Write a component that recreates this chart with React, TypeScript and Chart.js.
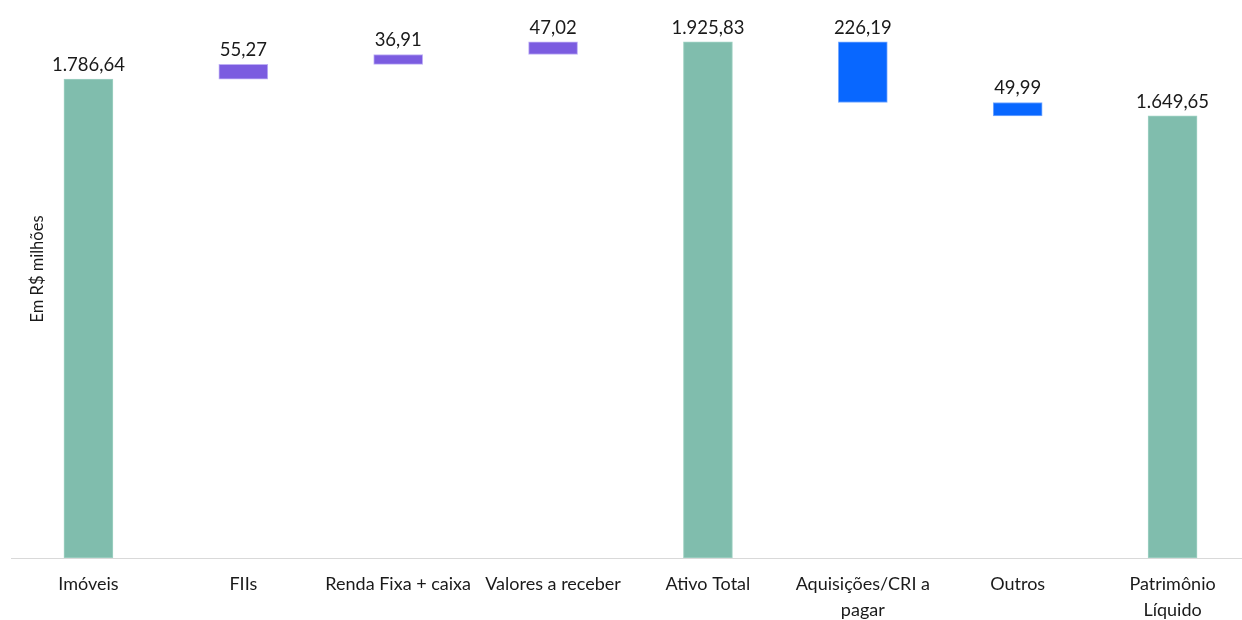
import React, { useEffect, useRef } from "react";
import { Chart, registerables } from "chart.js";

Chart.register(...registerables);

const categories: (string | string[])[] = [
  "Imóveis",
  "FIIs",
  "Renda Fixa + caixa",
  "Valores a receber",
  "Ativo Total",
  ["Aquisições/CRI a", "pagar"],
  "Outros",
  ["Patrimônio", "Líquido"],
];
// amount of each step (positive = increase, negative = decrease)
const amounts = [1786.64, 55.27, 36.91, 47.02, 1925.83, -226.19, -49.99, 1649.65];
// "total" bars start from zero; "step" bars float from the running total
const kinds = ["total", "step", "step", "step", "total", "step", "step", "total"];
const valueLabels = ["1.786,64", "55,27", "36,91", "47,02", "1.925,83", "226,19", "49,99", "1.649,65"];

const TEAL = "#80BDAD";
const PURPLE = "#7B5CE0";
const BLUE = "#0867FF";
const FONT = "Lato, 'Open Sans', sans-serif";

function buildRanges(): [number, number][] {
  let running = 0;
  return amounts.map((a, i) => {
    if (kinds[i] === "total") {
      running = a;
      return [0, a] as [number, number];
    }
    const start = running;
    running = running + a;
    return [start, running] as [number, number];
  });
}

export default function App() {
  const ref = useRef<HTMLCanvasElement | null>(null);
  useEffect(() => {
    if (!ref.current) return;
    const ranges = buildRanges();
    const colors = amounts.map((a, i) => (kinds[i] === "total" ? TEAL : a >= 0 ? PURPLE : BLUE));
    const borders = amounts.map((a, i) =>
      kinds[i] === "total" ? "rgba(160,210,196,1)" : a >= 0 ? "rgba(190,175,245,1)" : "rgba(120,170,255,1)"
    );
    const labelPlugin = {
      id: "wfLabels",
      afterDatasetsDraw(chart: any) {
        const ctx = chart.ctx;
        const meta = chart.getDatasetMeta(0);
        const y = chart.scales.y;
        ctx.save();
        ctx.font = `18.5px ${FONT}`;
        ctx.fillStyle = "#1a1a1a";
        ctx.textAlign = "center";
        ctx.textBaseline = "alphabetic";
        meta.data.forEach((el: any, i: number) => {
          const top = Math.max(ranges[i][0], ranges[i][1]);
          ctx.fillText(valueLabels[i], el.x, y.getPixelForValue(top) - 8);
        });
        // y axis title
        ctx.translate(38, 269);
        ctx.rotate(-Math.PI / 2);
        ctx.font = `16.5px ${FONT}`;
        ctx.textBaseline = "middle";
        ctx.fillText("Em R$ milhões", 0, 0);
        ctx.restore();
      },
    };
    const chart = new Chart(ref.current, {
      type: "bar",
      data: {
        labels: categories as any,
        datasets: [
          {
            data: ranges as any,
            backgroundColor: colors,
            borderColor: borders,
            borderWidth: 1,
            borderSkipped: false,
            barThickness: 49,
          },
        ],
      },
      options: {
        responsive: false,
        animation: false,
        layout: { padding: { left: 11, right: 0, top: 22, bottom: 0 } },
        plugins: { legend: { display: false }, tooltip: { enabled: false } },
        scales: {
          x: {
            grid: { display: false, drawTicks: false },
            border: { display: true, color: "#D9D9D9", width: 1 },
            ticks: {
              color: "#1a1a1a",
              font: { family: FONT, size: 18, lineHeight: 1.4 },
              padding: 14,
              maxRotation: 0,
              autoSkip: false,
            },
            afterFit(scale: any) {
              scale.height = 62;
            },
          },
          y: {
            display: false,
            min: 0,
            max: 2000,
          },
        },
      },
      plugins: [labelPlugin],
    });
    return () => chart.destroy();
  }, []);
  return (
    <div style={{ position: "fixed", left: 0, top: 0, width: 1242, height: 620, overflow: "hidden", background: "#fff" }}>
      <canvas ref={ref} width={1250} height={620} style={{ width: 1250, height: 620, display: "block" }} />
    </div>
  );
}
